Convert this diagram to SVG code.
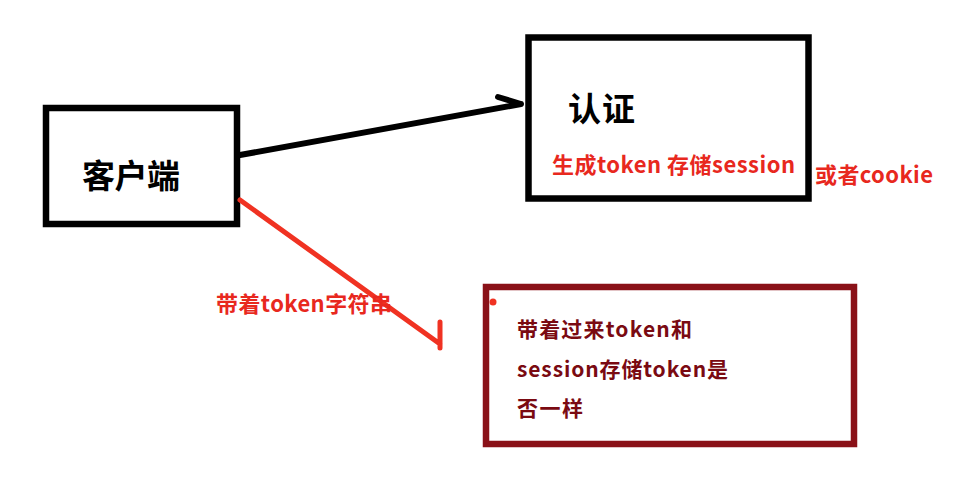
<svg xmlns="http://www.w3.org/2000/svg" width="959" height="499" viewBox="0 0 959 499">
<style>
.box{fill:none;stroke:#000;stroke-width:6.5}
.box2{fill:none;stroke:#8a1118;stroke-width:6.5}
.big{font-family:"Noto Sans CJK SC","Noto Sans",sans-serif;font-weight:bold;font-size:33px;fill:#000}
.red{font-family:"Noto Sans CJK SC","Noto Sans",sans-serif;font-weight:bold;font-size:22px;fill:#e8281e}
.dred{font-family:"Noto Sans CJK SC","Noto Sans",sans-serif;font-weight:bold;font-size:21px;fill:#7a0a12}
.blk{fill:none;stroke:#000;stroke-width:6;stroke-linecap:round;stroke-linejoin:round}
.rl{fill:none;stroke:#f03222;stroke-width:5;stroke-linecap:round;stroke-linejoin:round}
</style>
<rect width="959" height="499" fill="#fff"/>
<g id="client">
<rect class="box" x="46" y="108" width="191" height="116"/>
<text class="big" x="82" y="188" textLength="98">客户端</text>
</g>
<g id="auth">
<rect class="box" x="528.5" y="37.5" width="280" height="161"/>
<text class="big" x="568" y="121" textLength="67">认证</text>
<text class="red" x="552" y="173" textLength="243">生成token 存储session</text>
</g>
<g id="note">
<text class="red" x="815" y="183" textLength="118">或者cookie</text>
</g>
<g id="check">
<rect class="box2" x="486" y="287" width="368" height="157"/>
<circle cx="493" cy="302" r="3.5" fill="#f03222"/>
<text class="dred" x="517" y="337" textLength="175">带着过来token和</text>
<text class="dred" x="517" y="377" textLength="211">session存储token是</text>
<text class="dred" x="517" y="416" textLength="66">否一样</text>
</g>
<g id="connectors">
<path class="blk" d="M240 155 L521 104 M498 97 L521 104"/>
<path class="rl" d="M240 200 L440 344 M440 322 L440 348"/>
<text class="red" x="216" y="312" textLength="176">带着token字符串</text>
</g>
</svg>
